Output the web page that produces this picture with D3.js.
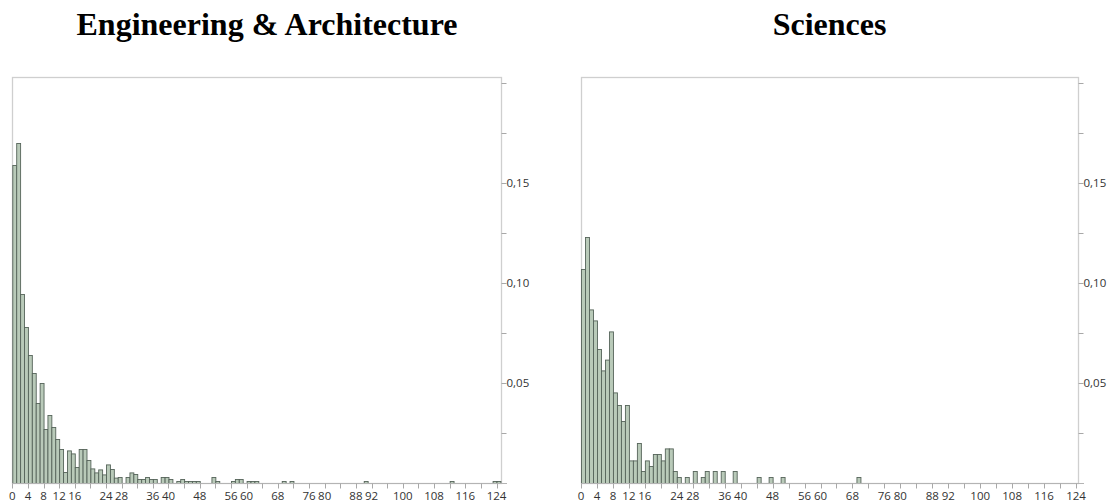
<!DOCTYPE html>
<html>
<head>
<meta charset="utf-8">
<script src="https://cdn.jsdelivr.net/npm/d3@7"></script>
<style>
body { margin: 0; background: #fff; }
</style>
</head>
<body>
<svg width="1114" height="504"></svg>
<script>
// relative frequency per 1-unit bin, starting at bin 0
var engArch = [
  0.159, 0.170, 0.0945, 0.078, 0.064, 0.055, 0.040, 0.050, 0.027, 0.034,
  0.028, 0.022, 0.017, 0.0055, 0.0163, 0.0148, 0.008, 0.017, 0.017, 0.0115,
  0.0073, 0.0053, 0.0068, 0.0043, 0.0093, 0.007, 0.0027, 0.003, 0, 0.003,
  0.0053, 0.0045, 0.002, 0.002, 0.003, 0.002, 0.002, 0, 0.003, 0.003,
  0.002, 0, 0.001, 0.002, 0.001, 0.001, 0.001, 0.001, 0, 0,
  0, 0.003, 0.001, 0, 0, 0, 0.001, 0.002, 0.002, 0,
  0.001, 0.001, 0.001, 0, 0, 0, 0, 0, 0, 0.001,
  0, 0.001, 0, 0, 0, 0, 0, 0, 0, 0,
  0, 0, 0, 0, 0, 0, 0, 0, 0, 0,
  0.001, 0, 0, 0, 0, 0, 0, 0, 0, 0,
  0, 0, 0, 0, 0, 0, 0, 0, 0, 0,
  0, 0, 0.001, 0, 0, 0, 0, 0, 0, 0,
  0, 0, 0, 0.001, 0.001
];
var sciences = [
  0.107, 0.123, 0.0868, 0.0813, 0.067, 0.0563, 0.0617, 0.0758, 0.0453, 0.039,
  0.031, 0.039, 0.0113, 0.0113, 0.020, 0.006, 0.0113, 0.0085, 0.0145, 0.0145,
  0.0113, 0.0173, 0.0173, 0.006, 0.003, 0, 0.003, 0, 0.006, 0,
  0.003, 0.006, 0, 0.006, 0, 0.006, 0, 0, 0.006, 0,
  0, 0, 0, 0, 0.003, 0, 0, 0.003, 0, 0,
  0.003, 0, 0, 0, 0, 0, 0, 0, 0, 0,
  0, 0, 0, 0, 0, 0, 0, 0, 0, 0.003
];
var titles = ["Engineering & Architecture", "Sciences"];
var xTicks = d3.range(0, 125, 4);
var xLabels = [0, 4, 8, 12, 16, 24, 28, 36, 40, 48, 56, 60, 68, 76, 80, 88, 92, 100, 108, 116, 124];
var yTicks = [0.025, 0.05, 0.075, 0.10, 0.125, 0.15, 0.175, 0.20];
var yLabels = [0.05, 0.10, 0.15];

var svg = d3.select("svg");

var panels = [
  { title: titles[0], data: engArch, left: 12, right: 501, x0: 12.3, x124: 496.5, titleX: 267 },
  { title: titles[1], data: sciences, left: 581, right: 1078, x0: 581, x124: 1076, titleX: 829.5 }
];
var frameTop = 77, frameBottom = 483;

var y = d3.scaleLinear().domain([0, 0.2]).range([frameBottom, 83]);
var fmt = function(d) { return d3.format(".2f")(d).replace(".", ","); };

panels.forEach(function(p) {
  var x = d3.scaleLinear().domain([0, 124]).range([p.x0, p.x124]);
  var g = svg.append("g");

  g.append("text")
    .attr("x", p.titleX)
    .attr("y", 35)
    .attr("text-anchor", "middle")
    .style("font-family", "'Liberation Serif', 'Times New Roman', serif")
    .style("font-weight", "bold")
    .style("font-size", "32px")
    .text(p.title);

  // frame
  g.append("rect")
    .attr("x", p.left + 0.5)
    .attr("y", frameTop + 0.5)
    .attr("width", p.right - p.left)
    .attr("height", frameBottom - frameTop)
    .attr("fill", "none")
    .attr("stroke", "#cfcfcf")
    .attr("stroke-width", 1.3);

  // bars
  var bins = p.data.map(function(v, i) { return { x: i, v: v }; })
    .filter(function(d) { return d.v > 0; });
  g.append("g").selectAll("rect")
    .data(bins)
    .enter().append("rect")
    .attr("x", function(d) { return x(d.x) + 0.5; })
    .attr("y", function(d) { return y(d.v) + 0.5; })
    .attr("width", function(d) { return x(d.x + 1) - x(d.x); })
    .attr("height", function(d) { return y(0) - y(d.v); })
    .attr("fill", "#b9cab9")
    .attr("stroke", "#56645a")
    .attr("stroke-width", 0.9);

  // x axis
  var xa = g.append("g").attr("transform", "translate(0," + (frameBottom + 0.5) + ")");
  xa.append("line")
    .attr("x1", p.left).attr("x2", p.right + 6)
    .attr("stroke", "#b4b4b4")
    .attr("stroke-width", 1.2);
  xa.selectAll(".tk").data(xTicks).enter().append("line")
    .attr("x1", function(d) { return Math.round(x(d)) + 0.5; })
    .attr("x2", function(d) { return Math.round(x(d)) + 0.5; })
    .attr("y1", 0).attr("y2", 5)
    .attr("stroke", "#a8a8a8");
  xa.selectAll("text").data(xLabels).enter().append("text")
    .attr("x", function(d) { return x(d); })
    .attr("y", 16)
    .attr("text-anchor", "middle")
    .style("font-family", "'Open Sans', sans-serif")
    .style("font-size", "11.5px")
    .attr("fill", "#333")
    .text(function(d) { return d; });

  // y axis on the right
  var ya = g.append("g").attr("transform", "translate(" + (p.right + 0.5) + ",0)");
  ya.selectAll("line").data(yTicks).enter().append("line")
    .attr("x1", 0).attr("x2", 5)
    .attr("y1", function(d) { return Math.round(y(d)) + 0.5; })
    .attr("y2", function(d) { return Math.round(y(d)) + 0.5; })
    .attr("stroke", "#a8a8a8");
  ya.selectAll("text").data(yLabels).enter().append("text")
    .attr("x", 5)
    .attr("y", function(d) { return y(d) + 4; })
    .style("font-family", "'Open Sans', sans-serif")
    .style("font-size", "11.5px")
    .attr("fill", "#333")
    .text(fmt);
});
</script>
</body>
</html>
